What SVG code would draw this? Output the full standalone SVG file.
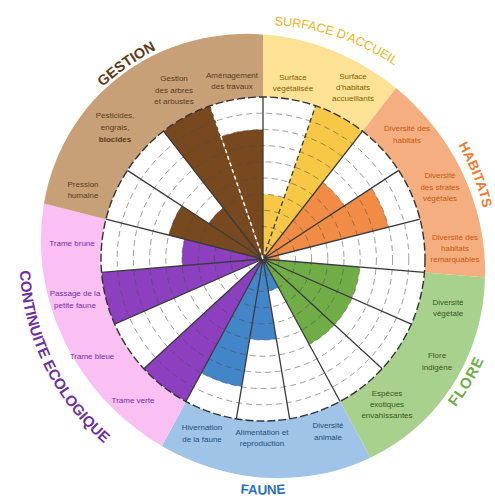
<svg xmlns="http://www.w3.org/2000/svg" width="495" height="499" viewBox="0 0 495 499">
<style>
.lbl{font-family:"Liberation Sans",Arial,sans-serif;font-size:8px;text-anchor:middle}
.ttl{font-family:"Liberation Sans",Arial,sans-serif;font-weight:bold;text-anchor:middle}
.rad{stroke:#3b3b3b;stroke-width:1.3;fill:none}
.ring{fill:none;stroke:#4a4a4a;stroke-width:0.9;stroke-dasharray:6 4;opacity:0.6}
</style>
<defs>
<clipPath id="outerClip"><ellipse cx="0" cy="-3" rx="230" ry="214" transform="rotate(45 0 -3)"/></clipPath>
<path id="pGes" d="M-234.1,20.48 A235,235 0 0 1 99.32,-212.98"/>
<path id="pSur" d="M-155.05,-175.26 A234,234 0 0 1 229.30,-46.65"/>
<path id="pHab" d="M33.01,-223.58 A226,226 0 0 1 177.11,140.38"/>
<path id="pFlo" d="M-4.24,242.96 A243,243 0 0 0 212.53,-117.81"/>
<path id="pFau" d="M-203.95,117.75 A235.5,235.5 0 0 0 203.95,117.75"/>
<path id="pCon" d="M-201.87,-136.16 A243.5,243.5 0 0 0 -16.99,242.91"/>
</defs>
<rect width="495" height="499" fill="#ffffff"/>
<g transform="translate(263,259)">
  <g id="outer-ring" clip-path="url(#outerClip)">
    <path id="band-surface" fill="#fde296" d="M0,-260 A260,260 0 0 1 159.69,-205.18 L99.50,-127.84 A162,162 0 0 0 0,-162 Z"/>
    <path id="band-habitats" fill="#f5ae80" d="M159.69,-205.18 A260,260 0 0 1 259.11,21.47 L161.45,13.38 A162,162 0 0 0 99.50,-127.84 Z"/>
    <path id="band-flore" fill="#a9d18e" d="M259.11,21.47 A260,260 0 0 1 123.75,228.66 L77.10,142.47 A162,162 0 0 0 161.45,13.38 Z"/>
    <path id="band-faune" fill="#a0c4e8" d="M123.75,228.66 A260,260 0 0 1 -123.75,228.66 L-77.10,142.47 A162,162 0 0 0 77.10,142.47 Z"/>
    <path id="band-continuite" fill="#fac0f4" d="M-123.75,228.66 A260,260 0 0 1 -252.04,-63.83 L-157.04,-39.77 A162,162 0 0 0 -77.10,142.47 Z"/>
    <path id="band-gestion" fill="#c8a078" d="M-252.04,-63.83 A260,260 0 0 1 0,-260 L0,-162 A162,162 0 0 0 -157.04,-39.77 Z"/>
  </g>
  <circle id="chart-disk" r="162" fill="#ffffff"/>
  <g id="scores">
    <path id="s-surface-vegetalisee" fill="#f7c846" d="M0,0 L0,-64.8 A64.8,64.8 0 0 1 21.04,-61.29 Z"/>
    <path id="s-surface-habitats" fill="#f7c846" d="M0,0 L52.60,-153.22 A162,162 0 0 1 99.50,-127.84 Z"/>
    <path id="s-div-habitats" fill="#f18c46" d="M0,0 L59.70,-76.70 A97.2,97.2 0 0 1 81.37,-53.16 Z"/>
    <path id="s-div-strates" fill="#f18c46" d="M0,0 L108.50,-70.88 A129.6,129.6 0 0 1 125.63,-31.82 Z"/>
    <path id="s-habitats-remarquables" fill="#f18c46" d="M0,0 L15.70,-3.98 A16.2,16.2 0 0 1 16.14,1.34 Z"/>
    <path id="s-flore" fill="#70ad47" d="M0,0 L96.87,8.03 A97.2,97.2 0 0 1 46.26,85.48 Z"/>
    <path id="s-div-animale" fill="#4285c8" d="M0,0 L15.42,28.49 A32.4,32.4 0 0 1 5.33,31.96 Z"/>
    <path id="s-alimentation" fill="#4285c8" d="M0,0 L13.33,79.90 A81,81 0 0 1 -13.33,79.90 Z"/>
    <path id="s-hivernation" fill="#4285c8" d="M0,0 L-21.33,127.83 A129.6,129.6 0 0 1 -61.68,113.98 Z"/>
    <path id="s-trame-verte" fill="#8c3fbe" d="M0,0 L-77.10,142.47 A162,162 0 0 1 -119.19,109.72 Z"/>
    <path id="s-passage" fill="#8c3fbe" d="M0,0 L-148.35,65.08 A162,162 0 0 1 -161.45,13.38 Z"/>
    <path id="s-trame-brune" fill="#8c3fbe" d="M0,0 L-80.72,6.69 A81,81 0 0 1 -78.52,-19.88 Z"/>
    <path id="s-pression" fill="#78481e" d="M0,0 L-94.23,-23.86 A97.2,97.2 0 0 1 -81.37,-53.16 Z"/>
    <path id="s-pesticides" fill="#78481e" d="M0,0 L-54.25,-35.44 A64.8,64.8 0 0 1 -39.80,-51.14 Z"/>
    <path id="s-gestion-arbres" fill="#78481e" d="M0,0 L-99.50,-127.84 A162,162 0 0 1 -52.60,-153.22 Z"/>
    <path id="s-amenagement" fill="#78481e" d="M0,0 L-42.08,-122.58 A129.6,129.6 0 0 1 0,-129.6 Z"/>
  </g>
  <g id="grid">
    <circle class="ring" r="16.2"/><circle class="ring" r="32.4"/><circle class="ring" r="48.6"/>
    <circle class="ring" r="64.8"/><circle class="ring" r="81"/><circle class="ring" r="97.2"/>
    <circle class="ring" r="113.4"/><circle class="ring" r="129.6"/><circle class="ring" r="145.8"/>
    <path class="rad" d="M0,0 L0,-162 M0,0 L99.50,-127.84 M0,0 L135.62,-88.61 M0,0 L157.04,-39.77 M0,0 L161.45,13.38 M0,0 L148.35,65.08 M0,0 L119.19,109.72 M0,0 L77.10,142.47 M0,0 L26.66,159.79 M0,0 L-26.66,159.79 M0,0 L-77.10,142.47 M0,0 L-119.19,109.72 M0,0 L-148.35,65.08 M0,0 L-161.45,13.38 M0,0 L-157.04,-39.77 M0,0 L-135.62,-88.61 M0,0 L-99.50,-127.84"/>
    <path class="rad" stroke-dasharray="5 3" d="M0,0 L52.60,-153.22"/>
    <path fill="none" stroke="#ffffff" stroke-width="1.5" stroke-dasharray="4 3" d="M0,0 L-52.60,-153.22"/>
    <circle r="162" fill="none" stroke="#333333" stroke-width="1.4" stroke-dasharray="8 3"/>
  </g>
  <g id="titles" class="ttl">
    <text font-size="14.5" fill="#5e3c17"><textPath href="#pGes" startOffset="50%">GESTION</textPath></text>
    <text font-size="12.5" font-weight="normal" fill="#f0b31a"><textPath href="#pSur" startOffset="50%">SURFACE D'ACCUEIL</textPath></text>
    <text font-size="13.5" fill="#ed7d31" letter-spacing="0.3"><textPath href="#pHab" startOffset="50%">HABITATS</textPath></text>
    <text font-size="15" fill="#70ad47" letter-spacing="1"><textPath href="#pFlo" startOffset="50%">FLORE</textPath></text>
    <text font-size="13.5" fill="#2f6fbf"><textPath href="#pFau" startOffset="50%">FAUNE</textPath></text>
    <text font-size="15" fill="#7030a0"><textPath href="#pCon" startOffset="50%">CONTINUITE ECOLOGIQUE</textPath></text>
  </g>
</g>
<g id="cat-gestion" class="lbl" fill="#5a3a1a">
  <text id="n-pression" x="83" y="187"><tspan x="83">Pression</tspan><tspan x="83" dy="11">humaine</tspan></text>
  <text id="n-pesticides" x="115" y="118"><tspan x="115">Pesticides,</tspan><tspan x="115" dy="12">engrais,</tspan><tspan x="115" dy="12" font-weight="bold">biocides</tspan></text>
  <text id="n-gestion-arbres" x="174" y="81"><tspan x="174">Gestion</tspan><tspan x="174" dy="11.5">des arbres</tspan><tspan x="174" dy="11.5">et arbustes</tspan></text>
  <text id="n-amenagement" x="232" y="78"><tspan x="232">Aménagement</tspan><tspan x="232" dy="11">des travaux</tspan></text>
</g>
<g id="cat-surface" class="lbl" fill="#7f6000">
  <text id="n-surface-vegetalisee" x="293" y="80"><tspan x="293">Surface</tspan><tspan x="293" dy="11">végétalisée</tspan></text>
  <text id="n-surface-habitats" x="353" y="79"><tspan x="353">Surface</tspan><tspan x="353" dy="11">d'habitats</tspan><tspan x="353" dy="11">accueillants</tspan></text>
</g>
<g id="cat-habitats" class="lbl" fill="#c55a11">
  <text id="n-div-habitats" x="407" y="131"><tspan x="407">Diversité des</tspan><tspan x="407" dy="12">habitats</tspan></text>
  <text id="n-div-strates" x="440" y="178"><tspan x="440">Diversité</tspan><tspan x="440" dy="11.5">des strates</tspan><tspan x="440" dy="11.5">végétales</tspan></text>
  <text id="n-habitats-remarquables" x="455" y="240"><tspan x="455">Diversité des</tspan><tspan x="455" dy="11">habitats</tspan><tspan x="455" dy="11">remarquables</tspan></text>
</g>
<g id="cat-flore" class="lbl" fill="#38571a">
  <text id="n-div-vegetale" x="448" y="305"><tspan x="448">Diversité</tspan><tspan x="448" dy="11">végétale</tspan></text>
  <text id="n-flore-indigene" x="437" y="358"><tspan x="437">Flore</tspan><tspan x="437" dy="12">indigène</tspan></text>
  <text id="n-especes-exotiques" x="387" y="396"><tspan x="387">Espèces</tspan><tspan x="387" dy="11">exotiques</tspan><tspan x="387" dy="11">envahissantes</tspan></text>
</g>
<g id="cat-faune" class="lbl" fill="#1f4e79">
  <text id="n-div-animale" x="328" y="428"><tspan x="328">Diversité</tspan><tspan x="328" dy="12">animale</tspan></text>
  <text id="n-alimentation" x="262" y="435"><tspan x="262">Alimentation et</tspan><tspan x="262" dy="11">reproduction</tspan></text>
  <text id="n-hivernation" x="202" y="430"><tspan x="202">Hivernation</tspan><tspan x="202" dy="12">de la faune</tspan></text>
</g>
<g id="cat-continuite" class="lbl" fill="#7030a0">
  <text id="n-trame-brune" x="72" y="246">Trame brune</text>
  <text id="n-passage" x="75" y="296"><tspan x="75">Passage de la</tspan><tspan x="75" dy="12">petite faune</tspan></text>
  <text id="n-trame-bleue" x="92" y="359">Trame bleue</text>
  <text id="n-trame-verte" x="133" y="403">Trame verte</text>
</g>
<g id="connectors"/>
</svg>
